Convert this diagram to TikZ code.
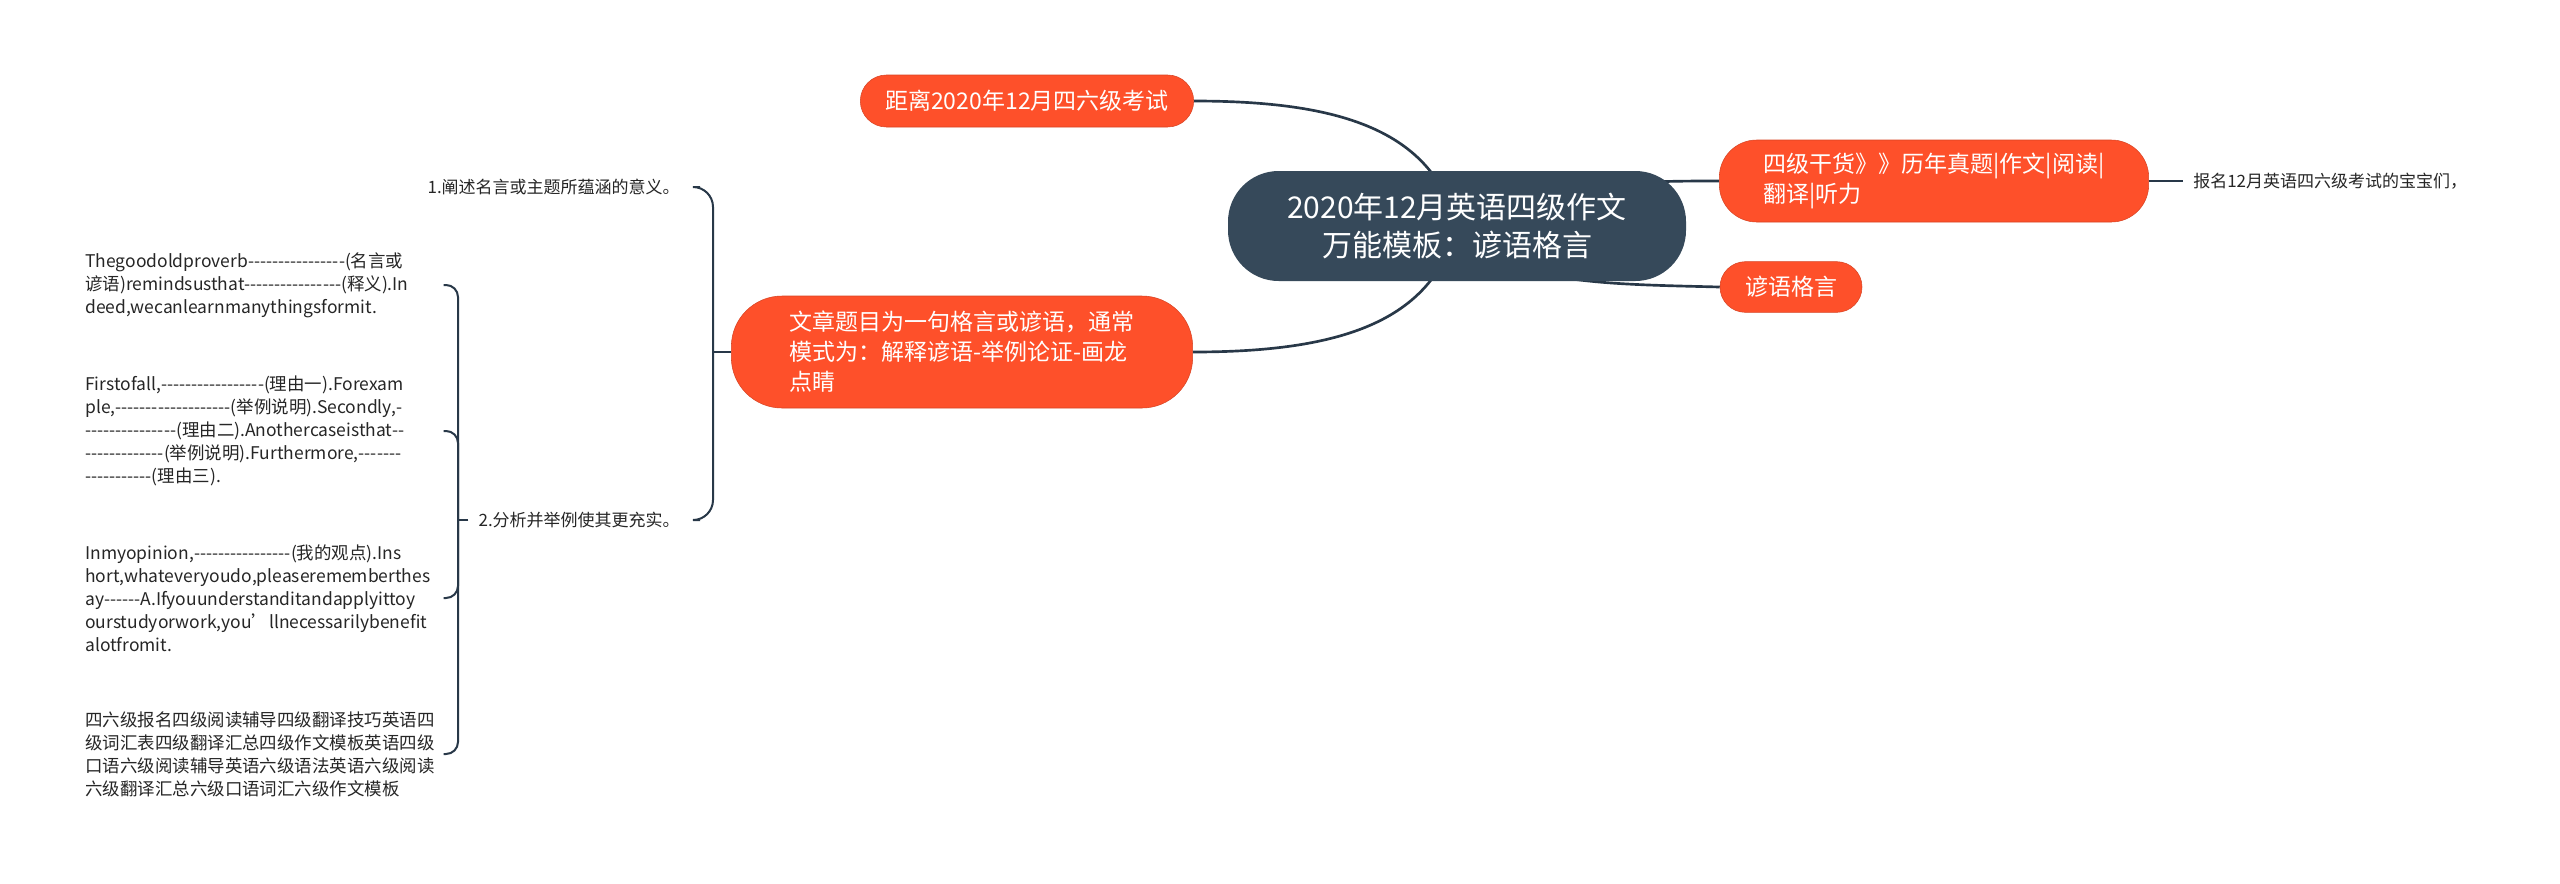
\documentclass[tikz,border=0pt]{standalone}
\usepackage{fontspec}
\newfontfamily\cjk{Noto Sans CJK SC}
\usetikzlibrary{backgrounds}

\definecolor{hot}{RGB}{254,80,42}
\definecolor{slate}{RGB}{54,73,90}
\definecolor{ink}{RGB}{40,56,72}

\tikzset{
  topic/.style={fill=slate, text=white, rounded corners=38pt, minimum width=343.5pt, minimum height=82.5pt, align=center, font={\cjk\fontsize{22.5pt}{28.5pt}\selectfont}},
  pill/.style={fill=hot, text=white, draw=hot!85!black, line width=0.4pt, align=left, font={\cjk\fontsize{17.25pt}{22.5pt}\selectfont}},
  note/.style={inner sep=0pt, inner xsep=7.5pt, text=black!85, font={\cjk\fontsize{12.75pt}{16pt}\selectfont}},
  leaf/.style={anchor=west, inner sep=0pt, text width=268.5pt, align=left, text=black!85, font={\cjk\fontsize{13.1pt}{17.25pt}\selectfont}, execute at begin node={\hyphenpenalty=10000}},
  link/.style={draw=ink, line width=2pt},
  brace/.style={draw=ink, line width=1.5pt, rounded corners=9pt},
}

\begin{document}
\begin{tikzpicture}[x=0.75pt,y=0.75pt,yscale=-1,xscale=1]
\path[use as bounding box] (0,0) rectangle (2560,883);

% Main topic
\node[topic] (ctr) at (1457,226) {2020年12月英语四级作文\\万能模板：谚语格言};

% Branches
\node[pill, minimum width=250pt, minimum height=39pt, rounded corners=19.5pt, align=center] (dist) at (1027,101) {距离2020年12月四六级考试};
\node[pill, minimum width=322pt, minimum height=61.5pt, rounded corners=28pt] (gan) at (1934,181) {四级干货》》历年真题|作文|阅读|\\翻译|听力};
\node[pill, minimum width=106.5pt, minimum height=38pt, rounded corners=19pt, align=center] (yy) at (1791,287) {谚语格言};
\node[pill, minimum width=346pt, minimum height=84pt, rounded corners=38pt] (essay) at (962,352) {文章题目为一句格言或谚语，通常\\模式为：解释谚语-举例论证-画龙\\点睛};

% Small text
\node[note, anchor=west] (reg) at (2183,181) {报名12月英语四六级考试的宝宝们，};
\node[note, anchor=east] (ask1) at (690,187) {1.阐述名言或主题所蕴涵的意义。};
\node[note, anchor=east] (ask2) at (690,520) {2.分析并举例使其更充实。};

% Leaves
\node[leaf] (good) at (85,285) {Thegoodoldproverb----------------(名言或\\谚语)remindsusthat----------------(释义).In\\deed,wecanlearnmanythingsformit.};
\node[leaf] (first) at (85,431) {Firstofall,-----------------(理由一).Forexam\\ple,-------------------(举例说明).Secondly,-\\---------------(理由二).Anothercaseisthat--\\-------------(举例说明).Furthermore,-------\\-----------(理由三).};
\node[leaf] (opinion) at (85,598) {Inmyopinion,----------------(我的观点).Ins\\hort,whateveryoudo,pleaserememberthes\\ay------A.Ifyouunderstanditandapplyittoy\\ourstudyorwork,you’llnecessarilybenefit\\alotfromit.};
\node[leaf] (links) at (85,754) {四六级报名四级阅读辅导四级翻译技巧英语四\\级词汇表四级翻译汇总四级作文模板英语四级\\口语六级阅读辅导英语六级语法英语六级阅读\\六级翻译汇总六级口语词汇六级作文模板};

\coordinate (hub1) at (713,352);
\coordinate (hub2) at (458,520);

% Connectors
\begin{pgfonlayer}{background}
\fill[white] (0,0) rectangle (2560,883);
\draw[link] (dist.east) .. controls (1340,101) and (1432,130) .. (ctr.center);
\draw[link] (ctr.center) .. controls (1432,322) and (1340,352) .. (essay.east);
\draw[link] (ctr.center) .. controls (1560,181) and (1640,181) .. (gan.west);
\draw[link] (ctr.center) .. controls (1500,284) and (1600,284) .. (yy.west);
\end{pgfonlayer}
\draw[link, line width=1.5pt] (gan.east) -- (reg.west);

\draw[brace] (essay.west) -- (hub1);
\draw[brace, rounded corners=15pt, shorten >=7.5pt] (hub1) |- (ask1.east);
\draw[brace, rounded corners=15pt, shorten >=7.5pt] (hub1) |- (ask2.east);

\draw[brace] (ask2.west) -- (hub2);
\foreach \k in {good,first,opinion,links}
  \draw[brace] (hub2) |- (\k.east);

\end{tikzpicture}
\end{document}
